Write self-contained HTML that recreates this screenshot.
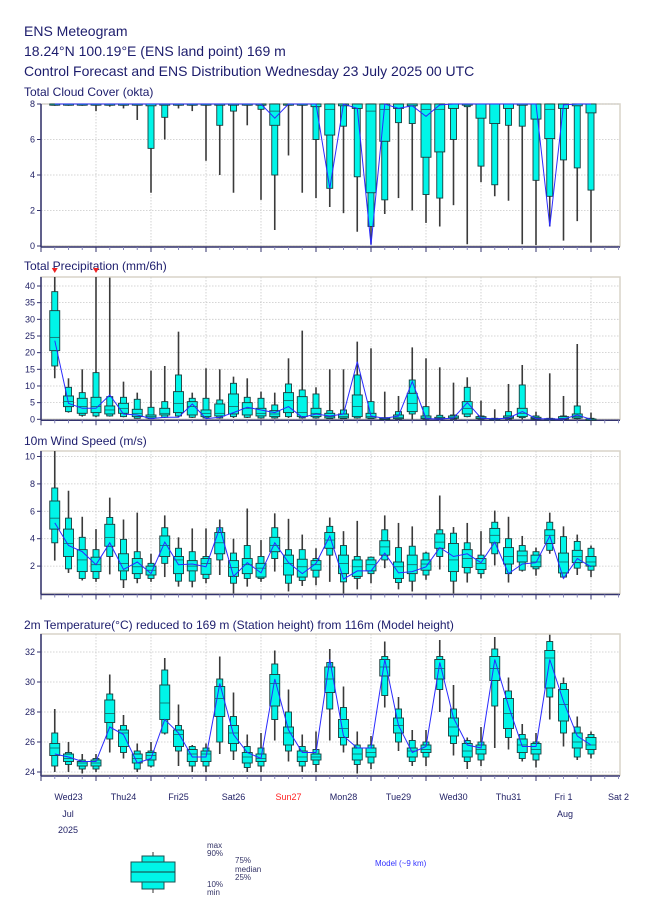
<!DOCTYPE html>
<html><head><meta charset="utf-8"><style>
body{margin:0;background:#fff;}
svg{display:block;font-family:"Liberation Sans",sans-serif;}
</style></head><body>
<svg id="chart" width="650" height="916" viewBox="0 0 650 916" xmlns="http://www.w3.org/2000/svg">
<text x="24" y="36" font-size="14" fill="#1c1c6c">ENS Meteogram</text>
<text x="24" y="56" font-size="14" fill="#1c1c6c">18.24°N 100.19°E (ENS land point) 169 m</text>
<text x="24" y="76" font-size="14" fill="#1c1c6c">Control Forecast and ENS Distribution Wednesday 23 July 2025 00 UTC</text>
<g id="panels"></g>
<g id="xlabels"></g>
<g>
  <line x1="153" y1="852" x2="153" y2="893" stroke="#777" stroke-width="1.5"/>
  <rect x="142" y="856" width="22" height="33" fill="#00f5e8" stroke="#1a5050" stroke-width="1"/>
  <rect x="131" y="862" width="44" height="20" fill="#00f5e8" stroke="#1a5050" stroke-width="1"/>
  <line x1="131" y1="872" x2="175" y2="872" stroke="#1a3a3a" stroke-width="1"/>
  <g font-size="8" fill="#333366">
    <text x="207" y="848">max</text><text x="207" y="856">90%</text>
    <text x="235" y="863">75%</text><text x="235" y="872">median</text><text x="235" y="880">25%</text>
    <text x="207" y="887">10%</text><text x="207" y="895">min</text>
  </g>
  <text x="375" y="866" font-size="8" fill="#3333ff">Model (~9 km)</text>
</g>
</svg>
<script>
const NS="http://www.w3.org/2000/svg";
const days=["Wed23","Thu24","Fri25","Sat26","Sun27","Mon28","Tue29","Wed30","Thu31","Fri 1","Sat 2"];

const cloudMin=[7.9,7.9,7.9,7.6,7.85,7.75,7.1,3.0,6.0,7.75,7.6,4.8,4.0,3.0,6.8,2.6,0.9,5.1,3.0,2.7,2.2,1.85,0.8,0.1,1.8,2.7,2.0,1.3,1.1,2.3,0.1,3.6,2.8,2.55,0.1,0.05,1.1,0.3,1.4,0.2];
const cloudP10=[8,8,8,8,8,8,8,5.5,7.25,8,8,8,6.8,7.6,8,7.7,4.0,8,8,6.0,3.25,6.75,3.9,1.1,2.6,6.95,6.9,2.9,2.7,6.0,7.85,4.5,3.45,6.8,6.75,3.7,2.8,4.85,4.4,3.15];
const cloudP25=[8,8,8,8,8,8,8,7.9,8,8,8,8,8,8,8,8,6.8,8,8,7.85,6.25,7.9,7.75,3.0,5.9,7.75,7.9,5.0,5.3,7.75,8,7.2,6.9,7.75,8,7.15,6.05,7.75,7.9,7.5];
const cloudMed=[8,8,8,8,8,8,8,8,8,8,8,8,8,8,8,8,7.6,8,8,8,7.7,8,8,7.6,7.7,8,8,7.7,7.7,8,8,8,8,8,8,8,7.7,8,8,8];
const cloudP75=[8,8,8,8,8,8,8,8,8,8,8,8,8,8,8,8,8,8,8,8,8,8,8,8,8,8,8,8,8,8,8,8,8,8,8,8,8,8,8,8];
const cloudP90=[8,8,8,8,8,8,8,8,8,8,8,8,8,8,8,8,8,8,8,8,8,8,8,8,8,8,8,8,8,8,8,8,8,8,8,8,8,8,8,8];
const cloudMax=[8,8,8,8,8,8,8,8,8,8,8,8,8,8,8,8,8,8,8,8,8,8,8,8,8,8,8,8,8,8,8,8,8,8,8,8,8,8,8,8];
const cloudCtrl=[8,8,8,8,8,8,8,8,8,8,8,8,8,8,8,8,7.2,8,8,8,3.25,8,7.75,0.05,8,7.75,7.9,7.3,7.95,8,8,8,8,8,8,8,1.1,7.95,8,8];

const precMin=[12.3,2,0.8,0.6,0.8,0.6,0.2,0.1,0.4,0.6,0.4,0.2,0.2,0.4,0.4,0.2,0.2,0.4,0.2,0.2,0.1,0.1,0.2,0.1,0,0,0,0,0,0,0.6,0,0,0,0,0,0,0,0,0];
const precP10=[16,2.3,1.2,1,1,0.8,0.3,0.2,0.6,1,0.6,0.4,0.4,0.8,0.6,0.4,0.4,0.8,0.4,0.4,0.2,0.2,0.4,0.2,0.05,0.1,1.6,0.1,0.1,0.1,0.8,0.1,0,0.1,0.5,0.05,0,0.05,0.2,0];
const precP25=[20.6,3.8,1.8,2,1.6,1.8,0.8,0.4,1.3,2,1.3,0.8,1,1.6,1.3,1,0.8,2,0.8,0.8,0.4,0.4,0.8,0.4,0.1,0.2,2.3,0.2,0.2,0.3,1.6,0.2,0.05,0.3,0.8,0.1,0.05,0.1,0.4,0];
const precMed=[24.6,5.3,3.8,3.8,2.8,3.3,1.8,0.8,1.8,4.8,3.8,1.8,1.8,3.8,3.3,1.8,1.6,5.6,2,1.8,0.8,0.8,3.8,0.8,0.2,0.6,4.8,0.4,0.3,0.5,3.3,0.4,0.1,0.6,1.8,0.3,0.1,0.3,0.8,0.05];
const precP75=[32.6,7,6.3,6.6,4,4.8,3,1.3,3.3,8.3,5.3,2.8,4.6,7.6,5,3.3,2.6,8,6.8,3.3,1.8,1.6,7.3,1.8,0.3,1.3,7.8,1,0.6,1.0,5.3,0.8,0.2,1.0,3.3,0.6,0.2,0.8,1.6,0.1];
const precP90=[38.3,9.6,8,14,6.8,6.6,6,3.6,5.3,13.3,6.3,6.3,5.8,10.8,6.6,6.3,4.3,10.6,8.8,7.6,2.6,2.8,13.3,5.3,0.5,2.3,11.8,3.8,1.2,1.3,9.6,1,0.3,2.3,10.3,1,0.3,1,4,0.3];
const precMax=[45,12.3,15,45,42.5,11.3,8,14.6,16,26.3,8,15.3,15,12.8,12.3,8.3,8,18.3,26.6,9.6,15,15,23.3,21.3,8.3,7,21.6,18.3,15.6,11,12.6,5.6,3,10.6,16.3,2.3,13.8,7,22.6,2];
const precCtrl=[23.6,4.8,3.3,3.3,7.3,1.6,1.3,0.2,0.6,0.6,4.6,0.2,0.6,2.0,3.6,2.8,2.0,3.8,0.6,1.6,1.0,1.6,17.3,1,0.3,1,11.3,0.2,0.1,0.4,5,0.4,0.1,0.4,2.3,0.2,0.1,0.1,1.3,0];

const windMin=[2.4,1.5,0.95,0.85,1.4,0.4,0.75,0.85,1.2,0.5,0.45,0.75,1.35,0,0.5,0.85,1.6,0.15,0.55,0.6,0.85,0,0.3,0.75,1.85,0.3,0.15,1.0,1.75,0,0.8,1.1,2.05,0.8,1.6,1.3,2.9,1.1,1.35,1.2];
const windP10=[3.7,1.8,1.1,1.1,2.7,1.0,1.1,1.1,2.2,0.9,0.9,1.1,2.45,0.75,1.1,1.1,2.55,0.75,0.95,1.2,2.8,0.85,1.1,1.45,2.45,0.8,0.9,1.35,2.7,0.9,1.5,1.45,2.9,1.45,1.7,1.8,3.15,1.2,1.85,1.7];
const windP25=[4.7,2.7,1.6,1.6,3.45,1.65,1.45,1.35,2.7,1.45,1.65,1.4,2.9,1.25,1.45,1.2,3.05,1.35,1.2,1.7,3.3,1.45,1.25,1.65,2.8,1.1,1.45,1.7,3.3,1.6,1.9,1.75,3.7,2.15,2.3,1.95,3.65,1.5,2.25,2.0];
const windMed=[5.5,3.65,2.45,2.1,4.1,2.2,1.95,1.7,3.5,2.45,2.0,2.2,3.7,1.9,2.1,1.85,3.5,2.2,1.95,2.1,3.9,2.2,1.95,2.1,3.4,1.95,2.1,2.15,3.75,2.45,2.55,2.2,4.25,2.7,2.75,2.3,4.25,2.3,2.7,2.3];
const windP75=[6.75,4.7,3.2,2.65,5.05,2.9,2.55,2.0,4.2,2.7,2.4,2.55,4.45,2.4,2.55,2.2,4.1,2.8,2.5,2.4,4.45,2.8,2.45,2.45,3.85,2.3,2.8,2.45,4.35,3.65,3.2,2.55,4.75,3.35,3.1,2.8,4.65,2.95,3.15,2.7];
const windP90=[7.7,5.5,4.1,3.2,5.55,3.95,3.05,2.2,4.8,3.3,3.05,2.7,4.8,2.95,3.5,2.7,4.8,3.2,3.2,2.55,4.9,3.5,2.7,2.65,4.65,3.35,3.45,2.95,4.65,4.4,3.7,2.8,5.2,4.0,3.5,3.05,5.2,4.15,3.8,3.3];
const windMax=[10.4,7.5,5.6,4.7,7.0,5.4,5.9,2.9,5.7,4.1,4.75,4.75,5.4,4.0,6.2,3.9,5.85,5.45,4.3,3.3,5.55,4.55,5.3,2.7,5.7,5.15,4.9,3.05,7.15,4.85,5.15,4.55,6.05,5.6,4.2,3.35,5.9,4.9,4.3,3.5];
const windCtrl=[5.15,3.5,3.05,2.1,3.7,1.75,2.3,1.45,3.75,2.1,2.15,1.95,4.8,1.25,2.25,1.5,3.7,2.25,1.45,2.2,4.2,1.05,1.65,1.65,2.95,1.5,1.6,1.95,3.35,2.7,2.9,2.25,3.75,1.45,2.15,2.25,4.2,1.1,2.55,1.95];

const tempMin=[24.0,24.0,23.9,24.0,25.3,24.9,24.0,24.3,26.5,24.4,24.0,24.0,25.2,24.8,24.0,24.0,26.1,24.7,24.0,24.0,26.1,25.3,23.9,24.2,28.3,25.4,24.4,24.4,28.0,25.1,24.2,24.4,25.6,25.5,24.7,24.3,27.5,25.7,24.8,24.9];
const tempP10=[24.4,24.5,24.2,24.2,26.2,25.3,24.2,24.4,26.6,25.4,24.4,24.4,26.0,25.4,24.3,24.4,27.5,25.4,24.4,24.5,28.2,25.8,24.5,24.6,29.1,26.0,24.7,25.0,29.5,25.9,24.7,24.8,28.4,26.3,24.9,24.8,29.0,26.6,25.0,25.2];
const tempP25=[25.1,24.7,24.4,24.4,27.3,25.7,24.6,24.8,27.5,25.7,24.7,24.7,27.7,25.9,24.6,24.7,28.4,25.8,24.7,24.8,29.3,26.3,24.8,25.0,30.4,26.6,25.0,25.3,30.2,26.4,25.0,25.2,30.1,26.9,25.3,25.2,29.6,27.4,25.6,25.5];
const tempMed=[25.6,24.9,24.6,24.6,27.9,26.6,24.9,25.1,28.6,26.5,25.2,25.2,28.9,26.6,25.0,24.9,29.9,26.6,25.0,25.0,30.2,26.9,25.2,25.3,31.0,27.1,25.4,25.5,30.9,27.0,25.4,25.5,30.9,27.9,25.8,25.5,31.6,28.5,26.0,25.8];
const tempP75=[25.9,25.2,24.7,24.8,28.8,26.8,25.2,25.3,29.8,26.8,25.5,25.4,29.7,27.1,25.3,25.2,30.5,27.0,25.4,25.2,31.0,27.5,25.6,25.6,31.5,27.6,25.6,25.8,31.5,27.6,25.9,25.8,31.7,28.9,26.2,25.9,32.1,29.5,26.6,26.3];
const tempP90=[26.6,25.3,24.8,24.9,29.2,27.1,25.4,25.4,30.8,27.1,25.7,25.6,30.2,27.7,25.7,25.6,31.2,28.0,25.7,25.5,31.3,28.3,25.8,25.8,31.7,28.2,26.1,26.0,31.7,28.2,26.1,26.0,32.2,29.4,26.5,26.0,32.7,29.9,27.0,26.5];
const tempMax=[28.2,26.0,25.2,25.2,30.5,27.8,25.9,26.0,31.6,28.5,25.8,25.9,31.7,29.3,26.5,26.6,32.1,29.5,26.5,26.7,32.2,29.7,26.7,26.4,32.7,29.0,26.8,26.8,32.8,29.8,26.3,27.0,33.0,30.3,27.2,26.6,33.15,30.3,27.7,26.7];
const tempCtrl=[25.2,25.0,24.7,24.7,27.0,26.5,24.6,24.9,27.5,26.6,25.0,25.0,29.9,26.5,25.3,24.9,30.2,26.8,25.3,25.3,31.5,26.4,25.6,25.6,31.5,27.1,25.3,25.7,31.3,27.6,25.8,25.6,31.5,28.4,25.7,25.7,31.5,28.7,26.4,25.8];

const X0=41, STEP=13.75, XR=620;
function xOf(i){return X0+(i+1)*STEP;}
function el(tag,attrs,parent){const e=document.createElementNS(NS,tag);for(const k in attrs)e.setAttribute(k,attrs[k]);if(parent)parent.appendChild(e);return e;}

const panels=[
 {name:"cloud-cover",title:"Total Cloud Cover (okta)",top:104,bottom:246,vmin:0,vmax:8,ticks:[0,2,4,6,8],arrows:false,
  d:[cloudMin,cloudP10,cloudP25,cloudMed,cloudP75,cloudP90,cloudMax,cloudCtrl],ty:96},
 {name:"precipitation",title:"Total Precipitation (mm/6h)",top:277,bottom:419.3,vmin:0,vmax:42.7,ticks:[0,5,10,15,20,25,30,35,40],arrows:true,
  d:[precMin,precP10,precP25,precMed,precP75,precP90,precMax,precCtrl],ty:270},
 {name:"wind-speed",title:"10m Wind Speed (m/s)",top:451,bottom:593.5,vmin:0,vmax:10.4,ticks:[2,4,6,8,10],arrows:false,
  d:[windMin,windP10,windP25,windMed,windP75,windP90,windMax,windCtrl],ty:445},
 {name:"temperature",title:"2m Temperature(°C) reduced to 169 m (Station height) from 116m (Model height)",top:634,bottom:775,vmin:23.8,vmax:33.2,ticks:[24,26,28,30,32],arrows:false,
  d:[tempMin,tempP10,tempP25,tempMed,tempP75,tempP90,tempMax,tempCtrl],ty:629}
];
const root=document.getElementById('panels');
panels.forEach(p=>{
  const g=el('g',{},root);
  
  
  const y=v=>p.bottom-(Math.min(Math.max(v,p.vmin),p.vmax)-p.vmin)/(p.vmax-p.vmin)*(p.bottom-p.top);
  const t=el('text',{x:24,y:p.ty,'font-size':12,fill:'#1c1c6c'},g);t.textContent=p.title;
  
  
  el('rect',{x:X0,y:p.top,width:XR-X0,height:p.bottom-p.top,fill:'#fff',stroke:'#d8d4c8','stroke-width':1.5},g);
  for(let k=1;k<=10;k++){const gx=X0+k*55;el('line',{x1:gx,y1:p.top,x2:gx,y2:p.bottom,stroke:'#c8c8c8','stroke-width':0.8,'stroke-dasharray':'1.5,1.5'},g);}
  p.ticks.forEach(tv=>{
    const ty=y(tv);
    el('line',{x1:X0,y1:ty,x2:XR,y2:ty,stroke:'#c8c8c8','stroke-width':0.8,'stroke-dasharray':'1.5,1.5'},g);
    el('line',{x1:X0-4,y1:ty,x2:X0,y2:ty,stroke:'#33336e','stroke-width':1},g);
    const lt=el('text',{x:X0-6,y:ty+3,'font-size':9,'text-anchor':'end',fill:'#222266'},g);lt.textContent=tv;
    
    
  });
  el('line',{x1:X0,y1:p.top,x2:X0,y2:p.bottom+1,stroke:'#33336e','stroke-width':1.5},g);
  el('line',{x1:X0,y1:p.bottom+1,x2:XR,y2:p.bottom+1,stroke:'#33336e','stroke-width':1.5},g);
  for(let k=0;k<=42;k++){const tx=X0+k*STEP;const major=k%4===0;el('line',{x1:tx,y1:p.bottom+1,x2:tx,y2:p.bottom+(major?6:4),stroke:major?'#33336e':'#8888bb','stroke-width':1},g);}
  const [mn,p10,p25,md,p75,p90,mx,ct]=p.d;
  for(let i=0;i<mn.length;i++){
    const cx=xOf(i);
    const b=el('g',{},g);
    
    
    el('line',{x1:cx,y1:y(mn[i]),x2:cx,y2:y(mx[i]),stroke:'#3a3a3a','stroke-width':1.6},b);
    const h1=Math.max(y(p10[i])-y(p90[i]),1.2);
    el('rect',{x:cx-3,y:y(p90[i]),width:6,height:h1,fill:'#00f5e8',stroke:'#1a3c3c','stroke-width':0.9},b);
    const h2=Math.max(y(p25[i])-y(p75[i]),1.2);
    el('rect',{x:cx-5,y:y(p75[i]),width:10,height:h2,fill:'#00f5e8',stroke:'#1a3c3c','stroke-width':0.9},b);
    el('line',{x1:cx-5,y1:y(md[i]),x2:cx+5,y2:y(md[i]),stroke:'#1a5050','stroke-width':0.7},b);
    if(p.arrows && mx[i]>p.vmax){
      const ar=el('path',{d:`M${cx-3},${p.top-9} L${cx+3},${p.top-9} L${cx},${p.top-4} Z`,fill:'#ee2222'},g);
      
      
    }
  }
  const pts=ct.map((v,i)=>xOf(i).toFixed(1)+','+y(v).toFixed(1)).join(' ');
  const pl=el('polyline',{points:pts,fill:'none',stroke:'#2a2aff','stroke-width':1},g);
  
  
});
const xl=document.getElementById('xlabels');
days.forEach((d,k)=>{
  const t=el('text',{x:X0+k*55+27.5,y:800,'font-size':9,'text-anchor':'middle',fill:d==='Sun27'?'#ff2222':'#222266'},xl);
  t.textContent=d;
  
  
});
[["Jul",68,817],["2025",68,833],["Aug",565,817]].forEach(a=>{
  const t=el('text',{x:a[1],y:a[2],'font-size':9,'text-anchor':'middle',fill:'#222266'},xl);
  t.textContent=a[0];
  
  
});
</script>
</body></html>
